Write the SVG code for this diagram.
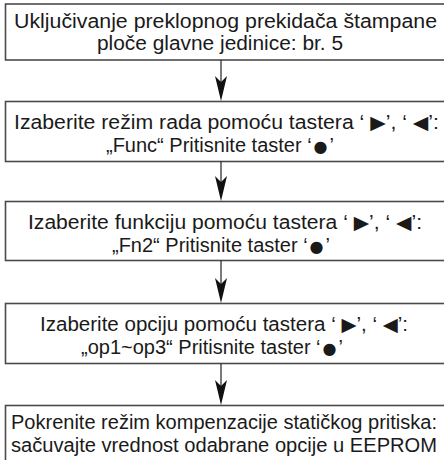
<svg xmlns="http://www.w3.org/2000/svg" width="444" height="460" viewBox="0 0 444 460">
<style>
.box{fill:#fff;stroke:#4a4a4a;stroke-width:1.6}
.t{font-family:"Liberation Sans",Arial,"DejaVu Sans",sans-serif;font-size:20px;fill:#1a1a1a}
.c{text-anchor:middle}
.s{font-family:"DejaVu Sans",sans-serif;font-size:19px}
.d{font-family:"DejaVu Sans",sans-serif;font-size:16px}
.ln{stroke:#222;stroke-width:1.2;fill:none}
.ah{fill:#111}
</style>
<rect width="444" height="460" fill="#fff"/>
<g id="n1"><rect class="box" x="5.5" y="4" width="446" height="56"/>
<text class="t" x="14" y="28" textLength="423" lengthAdjust="spacingAndGlyphs">Uključivanje preklopnog prekidača štampane</text>
<text class="t" x="97" y="50" textLength="246" lengthAdjust="spacingAndGlyphs">ploče glavne jedinice: br. 5</text></g>
<g id="n2"><rect class="box" x="5.5" y="101.5" width="446" height="60"/>
<text class="t" x="14" y="129" textLength="425" lengthAdjust="spacingAndGlyphs">Izaberite režim rada pomoću tastera ‘ <tspan class="s">▶</tspan>’, ‘ <tspan class="s">◀</tspan>’:</text>
<text class="t c" x="220" y="152">„Func“ Pritisnite taster ‘<tspan class="d" dx="2">●</tspan><tspan dx="2">’</tspan></text></g>
<g id="n3"><rect class="box" x="5.5" y="201.5" width="446" height="59"/>
<text class="t" x="28" y="229" textLength="394" lengthAdjust="spacingAndGlyphs">Izaberite funkciju pomoću tastera ‘ <tspan class="s">▶</tspan>’, ‘ <tspan class="s">◀</tspan>’:</text>
<text class="t c" x="221" y="252">„Fn2“ Pritisnite taster ‘<tspan class="d" dx="2">●</tspan><tspan dx="2">’</tspan></text></g>
<g id="n4"><rect class="box" x="5.5" y="303.5" width="446" height="60"/>
<text class="t" x="40" y="331" textLength="368" lengthAdjust="spacingAndGlyphs">Izaberite opciju pomoću tastera ‘ <tspan class="s">▶</tspan>’, ‘ <tspan class="s">◀</tspan>’:</text>
<text class="t c" x="212" y="354">„op1~op3“ Pritisnite taster ‘<tspan class="d" dx="2">●</tspan><tspan dx="2">’</tspan></text></g>
<g id="n5"><rect class="box" x="5.5" y="405.5" width="446" height="60"/>
<text class="t" x="11" y="429" textLength="426" lengthAdjust="spacingAndGlyphs">Pokrenite režim kompenzacije statičkog pritiska:</text>
<text class="t" x="11" y="452" textLength="426" lengthAdjust="spacingAndGlyphs">sačuvajte vrednost odabrane opcije u EEPROM</text></g>
<g id="connectors">
<line class="ln" x1="221" y1="60" x2="221" y2="90"/>
<path class="ah" d="M221,101 L215,76 L221,82 L227,76 Z"/>
<line class="ln" x1="221" y1="161.5" x2="221" y2="190"/>
<path class="ah" d="M221,201 L215,176 L221,182 L227,176 Z"/>
<line class="ln" x1="221" y1="260.5" x2="221" y2="292"/>
<path class="ah" d="M221,303 L215,278 L221,284 L227,278 Z"/>
<line class="ln" x1="221" y1="363.5" x2="221" y2="394"/>
<path class="ah" d="M221,405 L215,380 L221,386 L227,380 Z"/>
</g>
</svg>
